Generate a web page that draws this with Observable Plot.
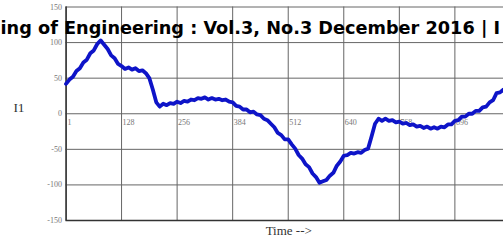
<!DOCTYPE html>
<html>
<head>
<meta charset="utf-8">
<script src="https://cdn.jsdelivr.net/npm/d3@7"></script>
<script src="https://cdn.jsdelivr.net/npm/@observablehq/plot@0.6"></script>
<style>
  html, body { margin: 0; padding: 0; background: #fff; overflow: hidden; }
</style>
</head>
<body>
<div id="chart"></div>
<script>
const headerText = "ing of Engineering : Vol.3, No.3 December 2016 | I";
const yLabel = "I1";
const xLabel = "Time -->";
const xTicks = [1, 128, 256, 384, 512, 640, 768, 896];
const xTickLabels = ["1", "128", "256", "384", "512", "640", "768", "896"];
const yTicks = [150, 100, 50, 0, -50, -100, -150];
const yTickLabels = ["150", "100", "50", "0", "-50", "-100", "-150"];

const time = [0, 8, 16, 24, 32, 40, 48, 56, 64, 72, 80, 88, 96, 104, 112, 120, 128, 136, 144, 152,
  160, 168, 176, 184, 192, 200, 208, 216, 224, 232, 240, 248, 256, 264, 272, 280, 288, 296, 304, 312,
  320, 328, 336, 344, 352, 360, 368, 376, 384, 392, 400, 408, 416, 424, 432, 440, 448, 456, 464, 472,
  480, 488, 496, 504, 512, 520, 528, 536, 544, 552, 560, 568, 576, 584, 592, 600, 608, 616, 624, 632,
  640, 648, 656, 664, 672, 680, 688, 696, 704, 712, 720, 728, 736, 744, 752, 760, 768, 776, 784, 792,
  800, 808, 816, 824, 832, 840, 848, 856, 864, 872, 880, 888, 896, 904, 912, 920, 928, 936, 944, 952,
  960, 968, 976, 984, 992, 1000, 1008];
const i1 = [42, 48, 52, 60, 64, 72, 76, 85, 89, 98, 103, 97, 91, 82, 78, 70, 67, 63, 65, 62,
  64, 60, 61, 57, 50, 34, 16, 10, 14, 12, 15, 14, 17, 15, 18, 17, 20, 19, 22, 21,
  23, 20, 22, 20, 21, 19, 20, 17, 16, 11, 10, 6, 6, 2, 3, -1, -2, -7, -9, -14,
  -19, -27, -30, -36, -36, -43, -49, -58, -63, -71, -75, -84, -89, -97, -95, -93, -87, -83, -73, -67,
  -59, -58, -55, -56, -54, -55, -51, -49, -32, -14, -7, -10, -7, -10, -9, -12, -11, -14, -13, -16,
  -15, -18, -17, -20, -18, -21, -19, -21, -18, -19, -15, -15, -10, -9, -4, -4, 0, 0, 4, 4,
  9, 10, 16, 19, 29, 30, 34];

const data = time.map((t, k) => ({t, v: i1[k]}));
const xt = xTicks.map((x, k) => ({x, label: xTickLabels[k]}));
const yt = yTicks.map((y, k) => ({y, label: yTickLabels[k]}));

const serif = "Liberation Serif, Times New Roman, serif";

const chart = Plot.plot({
  width: 503,
  height: 245,
  marginLeft: 65.5,
  marginRight: 0,
  marginTop: 6.5,
  marginBottom: 25,
  x: {domain: [0, 1008], axis: null},
  y: {domain: [-150, 150], axis: null},
  style: {background: "#fff", overflow: "visible"},
  marks: [
    Plot.ruleX(xt, {x: "x", stroke: "#666", strokeWidth: 1}),
    Plot.ruleY(yt, {y: "y", stroke: "#666", strokeWidth: 1}),
    Plot.ruleY([-150], {stroke: "#333", strokeWidth: 1.5}),
    Plot.ruleX([0], {stroke: "#333", strokeWidth: 1.5}),
    Plot.text(yt, {y: "y", text: "label", frameAnchor: "left", dx: -4, textAnchor: "end",
      fontFamily: serif, fontSize: 8, fill: "#777"}),
    Plot.text(xt, {x: "x", y: 0, text: "label", dx: 1, dy: 9, textAnchor: "start",
      fontFamily: serif, fontSize: 8, fill: "#777"}),
    Plot.line(data, {x: "t", y: "v", stroke: "#0e14c8", strokeWidth: 3.8, strokeLinejoin: "round"}),
    Plot.text([yLabel], {frameAnchor: "left", dx: -47, dy: -6, textAnchor: "middle",
      fontFamily: serif, fontSize: 13.5, fill: "#333"}),
    Plot.text([xLabel], {frameAnchor: "bottom", dx: 4, dy: 14, textAnchor: "middle",
      fontFamily: serif, fontSize: 13, fill: "#333"}),
    Plot.text([headerText], {frameAnchor: "top-left", dx: -65.5, dy: 14.5, textAnchor: "start",
      fontFamily: "DejaVu Sans", fontWeight: "bold", fontSize: 17.7, fill: "#000"})
  ]
});
document.getElementById("chart").appendChild(chart);
</script>
</body>
</html>
